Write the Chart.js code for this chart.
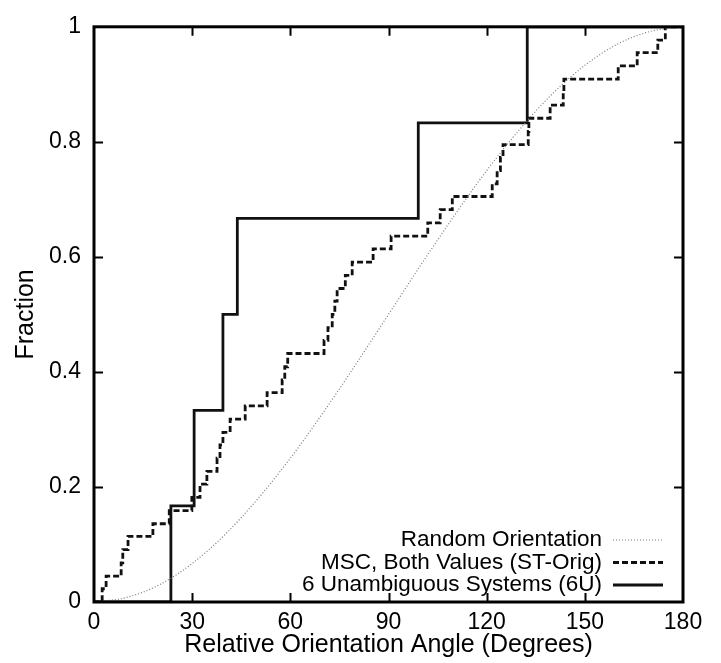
<!DOCTYPE html>
<html>
<head>
<meta charset="utf-8">
<title>Relative Orientation Angle</title>
<script src="https://cdn.jsdelivr.net/npm/chart.js@4/dist/chart.umd.min.js"></script>
<style>
    html, body { margin: 0; padding: 0; background: #fff; }
    #wrap { width: 721px; height: 663px; }
</style>
</head>
<body>
<div id="wrap"><canvas id="angleChart"></canvas></div>
<script>
const angleTicks = [0, 30, 60, 90, 120, 150, 180];
const fractionTicks = [0, 0.2, 0.4, 0.6, 0.8, 1];

// random orientation curve, sampled every 10 degrees
const randomAngles = [0, 10, 20, 30, 40, 50, 60, 70, 80, 90, 100, 110, 120, 130, 140, 150, 160, 170, 180];
const randomFraction = [0, 0.008, 0.030, 0.067, 0.117, 0.179, 0.25, 0.329, 0.413, 0.5, 0.587, 0.671, 0.75, 0.821, 0.883, 0.933, 0.970, 0.992, 1];

// MSC, both values: angle where each step happens and the fraction after it
const mscAngles = [0, 2.5, 3.7, 8.3, 8.8, 10.4, 18, 23, 29.9, 32.4, 34.5, 37.6, 38.5, 39.4, 41.6,
    46.2, 52.9, 57.5, 58.3, 59.2, 70.3, 71.5, 72.8, 73.6, 74.3, 76.8, 78.9, 85.3, 90.8,
    102, 105.8, 109.5, 121.7, 123.2, 124.2, 125, 132.7, 132.9, 139.4, 143.4, 143.6,
    160.2, 166, 172.3, 174.6, 180];
const mscFraction = [0, 0.023, 0.045, 0.068, 0.091, 0.114, 0.136, 0.159, 0.182, 0.205, 0.227, 0.25, 0.273, 0.295, 0.318,
    0.341, 0.364, 0.386, 0.409, 0.432, 0.455, 0.477, 0.5, 0.523, 0.545, 0.568, 0.591, 0.614, 0.636,
    0.659, 0.682, 0.705, 0.727, 0.75, 0.773, 0.795, 0.818, 0.841, 0.864, 0.886, 0.909,
    0.932, 0.955, 0.977, 1, 1];

// six unambiguous systems
const unambAngles = [0, 23.5, 30.6, 39.4, 43.8, 99.1, 132.4, 180];
const unambFraction = [0, 0.167, 0.333, 0.5, 0.667, 0.833, 1, 1];

const FONT = '"Liberation Sans", Arial, Helvetica, sans-serif';

function toPoints(xs, ys) {
    return xs.map((x, i) => ({ x: x, y: ys[i] }));
}

// closed frame with inward ticks on all four sides, plus the legend in the lower right
const boxFrame = {
    id: 'boxFrame',
    afterDatasetsDraw(chart) {
        const { ctx, chartArea: a, scales: { x, y } } = chart;
        ctx.save();
        ctx.strokeStyle = '#000';
        ctx.lineWidth = 2;
        ctx.beginPath();
        angleTicks.slice(1, -1).forEach(v => {
            const px = Math.round(x.getPixelForValue(v)) + 0.5;
            ctx.moveTo(px, a.bottom); ctx.lineTo(px, a.bottom - 9);
            ctx.moveTo(px, a.top); ctx.lineTo(px, a.top + 9);
        });
        fractionTicks.slice(1, -1).forEach(v => {
            const py = Math.round(y.getPixelForValue(v)) + 0.5;
            ctx.moveTo(a.left, py); ctx.lineTo(a.left + 9, py);
            ctx.moveTo(a.right, py); ctx.lineTo(a.right - 9, py);
        });
        ctx.stroke();
        ctx.lineWidth = 3;
        ctx.strokeRect(a.left, a.top, a.right - a.left, a.bottom - a.top);

        ctx.font = '22.5px ' + FONT;
        ctx.fillStyle = '#000';
        ctx.textAlign = 'right';
        ctx.textBaseline = 'middle';
        chart.data.datasets.forEach((ds, i) => {
            const rowY = a.bottom - 62 + i * 22.5;
            ctx.fillText(ds.label, a.right - 81, rowY);
            ctx.save();
            ctx.strokeStyle = ds.borderColor;
            ctx.lineWidth = ds.borderWidth;
            ctx.setLineDash(ds.borderDash || []);
            ctx.beginPath();
            ctx.moveTo(a.right - 70, rowY);
            ctx.lineTo(a.right - 20, rowY);
            ctx.stroke();
            ctx.restore();
        });
        ctx.restore();
    }
};

new Chart(document.getElementById('angleChart'), {
    type: 'line',
    data: {
        datasets: [{
            label: 'Random Orientation',
            data: toPoints(randomAngles, randomFraction),
            borderColor: '#7a7a7a',
            borderWidth: 1.2,
            borderDash: [1, 2],
            cubicInterpolationMode: 'monotone',
            pointRadius: 0
        }, {
            label: 'MSC, Both Values (ST-Orig)',
            data: toPoints(mscAngles, mscFraction),
            borderColor: '#111',
            borderWidth: 2.8,
            borderDash: [6, 3],
            stepped: 'before',
            pointRadius: 0
        }, {
            label: '6 Unambiguous Systems (6U)',
            data: toPoints(unambAngles, unambFraction),
            borderColor: '#111',
            borderWidth: 2.8,
            stepped: 'before',
            pointRadius: 0
        }]
    },
    options: {
        responsive: true,
        maintainAspectRatio: false,
        animation: false,
        layout: { padding: { top: 13, right: 38, bottom: 0, left: 0 } },
        plugins: {
            legend: { display: false },
            tooltip: { enabled: false }
        },
        scales: {
            x: {
                type: 'linear',
                min: 0,
                max: 180,
                afterBuildTicks: s => { s.ticks = angleTicks.map(v => ({ value: v })); },
                afterFit: s => { s.height = 61; },
                grid: { display: false, drawTicks: false },
                border: { display: false },
                ticks: {
                    color: '#000',
                    font: { family: FONT, size: 23 },
                    padding: 7,
                    maxRotation: 0,
                    autoSkip: false
                },
                title: {
                    display: true,
                    text: 'Relative Orientation Angle (Degrees)',
                    color: '#000',
                    font: { family: FONT, size: 25 },
                    padding: { top: 0, bottom: 3 }
                }
            },
            y: {
                type: 'linear',
                min: 0,
                max: 1,
                afterBuildTicks: s => { s.ticks = fractionTicks.map(v => ({ value: v })); },
                afterFit: s => { s.width = 94; },
                grid: { display: false, drawTicks: false },
                border: { display: false },
                ticks: {
                    color: '#000',
                    font: { family: FONT, size: 23 },
                    padding: 13,
                    callback: v => String(parseFloat(v.toFixed(2)))
                },
                title: {
                    display: true,
                    text: 'Fraction',
                    color: '#000',
                    font: { family: FONT, size: 25 },
                    padding: { top: 11, bottom: 0 }
                }
            }
        }
    },
    plugins: [boxFrame]
});
</script>
</body>
</html>
